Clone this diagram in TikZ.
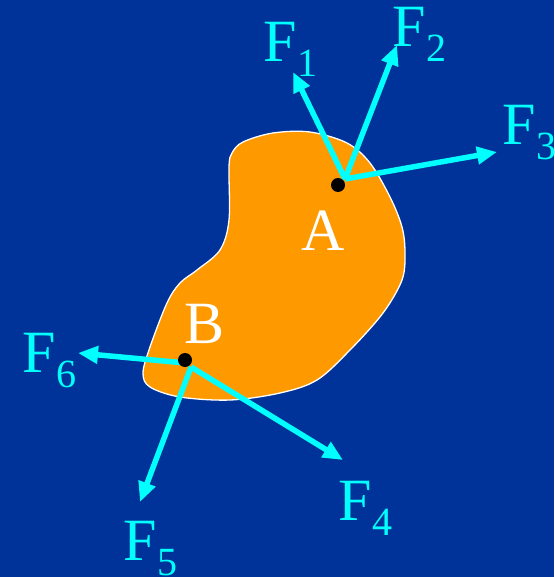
\documentclass[tikz,border=0pt]{standalone}
\usepackage{fontspec}
\setmainfont{Liberation Serif}
\usetikzlibrary{arrows.meta}
\definecolor{bgblue}{HTML}{003399}
\definecolor{blob}{HTML}{FF9900}
\definecolor{force}{HTML}{00FFFF}
\newcommand\Fsub[1]{F\kern1pt\raisebox{-15pt}{\fontsize{40}{40}\selectfont #1}}
\tikzset{
  forcearrow/.style={draw=force, line width=5.5pt, -{Triangle[length=20pt,width=17pt]}},
  flabel/.style={text=force, inner sep=0pt, anchor=base west, font=\fontsize{60}{60}\selectfont},
  ptlabel/.style={text=white, inner sep=0pt, anchor=base, font=\fontsize{60}{60}\selectfont},
  ptdot/.style={fill=black, circle, inner sep=0pt, minimum size=14pt}
}
\begin{document}
\begin{tikzpicture}[x=1pt,y=-1pt]
\fill[bgblue] (0,0) rectangle (554,577);
\useasboundingbox (0,0) rectangle (554,577);
% body
\draw[white, line width=1.3pt, fill=blob] plot[smooth cycle, tension=0.55] coordinates {
 (229,167) (229,220) (220,250) (197,270) (180,283) (167,303) (150,347) (143,373)
 (150,387) (180,397) (230,400) (280,393) (317,380) (350,350) (383,313) (402,280)
 (405,253) (402,227) (390,197) (370,163) (347,143) (310,132) (273,133) (243,142) (232,153)};
% points
\coordinate (oA) at (345,179);
\coordinate (oB6) at (185,363);
\coordinate (oB) at (191,367);
\coordinate (t1) at (293,72);
\coordinate (t2) at (397,45);
\coordinate (t3) at (497,152);
\coordinate (t4) at (343,460);
\coordinate (t5) at (140,502);
\coordinate (t6) at (78,353);
\draw[forcearrow] (oA) -- (t1);
\draw[forcearrow] (oA) -- (t2);
\draw[forcearrow] (oA) -- (t3);
\draw[forcearrow] (oB) -- (t4);
\draw[forcearrow] (oB) -- (t5);
\draw[forcearrow] (oB6) -- (t6);
\node[ptdot] (A) at (338,185) {};
\node[ptdot] (B) at (185,360) {};
\node[ptlabel] (lA) at (323,250) {A};
\node[ptlabel] (lB) at (205,343) {B};
\node[flabel] (F1) at (263,62) {\Fsub{1}};
\node[flabel] (F2) at (392,47) {\Fsub{2}};
\node[flabel] (F3) at (502,145) {\Fsub{3}};
\node[flabel] (F4) at (338,520) {\Fsub{4}};
\node[flabel] (F5) at (123,560) {\Fsub{5}};
\node[flabel] (F6) at (22,372) {\Fsub{6}};
\end{tikzpicture}
\end{document}
